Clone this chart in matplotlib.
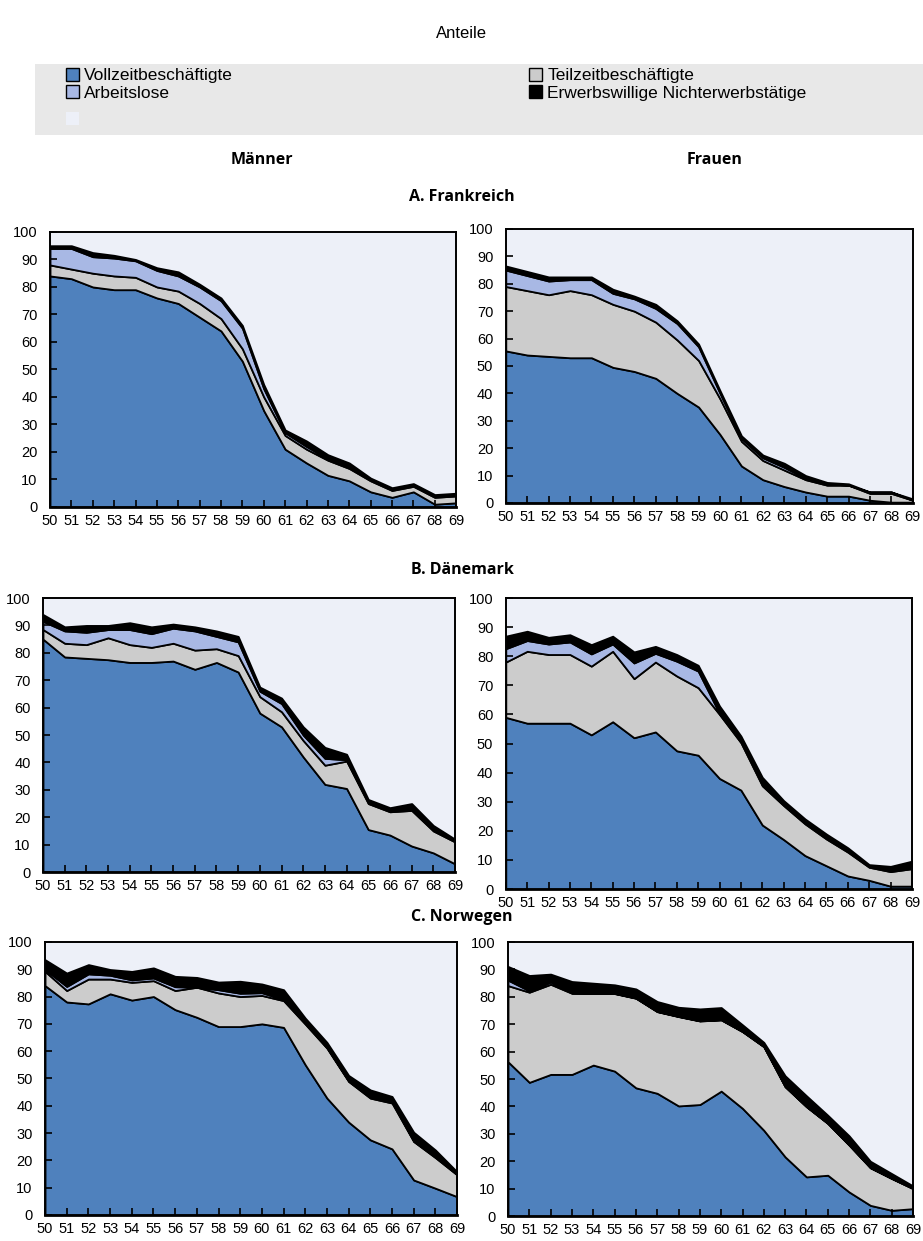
import matplotlib.pyplot as plt
from matplotlib.patches import Patch, Rectangle
import numpy as np

# ages on the x axis
ages = list(range(50, 70))

series_names = ['Vollzeitbeschäftigte', 'Teilzeitbeschäftigte', 'Arbeitslose',
                'Erwerbswillige Nichterwerbstätige']
colors = ['#4f81bd', '#cccccc', '#a8b8e4', '#000000']
bg_color = '#edf0f8'

# Frankreich
fr_m_full = [84, 83, 80, 79, 79, 76, 74, 69, 64, 53, 35, 21, 16, 11.5, 9.5, 5.5, 3.5, 5.5, 1, 1.5]
fr_m_part = [4, 3.5, 5, 5, 4.5, 4, 4.5, 5, 4.5, 4.5, 5, 5, 5, 5.5, 4.5, 4, 2.5, 2, 2.5, 2.5]
fr_m_unemp = [6, 7.5, 6, 6.5, 6, 6, 5.5, 6, 6.5, 7.5, 3, 1, 1, 0.5, 0.5, 0.5, 0.5, 0.5, 0.5, 0.5]
fr_m_will = [1, 1, 1.5, 1, 0.5, 1, 1.5, 1, 1, 1, 1.5, 1, 2, 1.5, 1.5, 0.5, 0.5, 0.5, 0.5, 0.5]

fr_w_full = [55.5, 54, 53.5, 53, 53, 49.5, 48, 45.5, 40, 35, 25, 13.5, 8.5, 6, 4, 2.5, 2.5, 1, 0.3, 0.3]
fr_w_part = [23.5, 23.5, 22.5, 24.5, 23, 23, 22, 20.5, 19.5, 17, 13, 9, 7, 6, 4.5, 4, 4, 2.5, 3.2, 0.7]
fr_w_unemp = [6, 5.5, 5, 4, 5.5, 4, 4.5, 5, 6, 5, 2, 1, 1, 1, 0.5, 0.5, 0, 0.5, 0.5, 0]
fr_w_will = [1.5, 1.5, 1.5, 1, 1, 1.5, 1, 1.5, 1, 1, 1, 1, 1, 1.5, 1, 0.5, 0.5, 0, 0, 0.5]

# Dänemark
dk_m_full = [85, 78.5, 78, 77.5, 76.5, 76.5, 77, 74, 76.5, 73, 58, 53, 42, 32, 30.5, 15.5, 13.5, 9.5, 7, 3]
dk_m_part = [3.5, 5, 5, 8, 6.5, 5.5, 6.5, 7, 5, 6, 6, 5.5, 6, 7, 10, 9.5, 8.5, 13, 8, 8]
dk_m_unemp = [3, 4.5, 4.5, 3, 5.5, 5, 5.5, 7, 4.5, 5, 2, 3, 2, 2.5, 0.5, 0.5, 0.5, 0.5, 0.5, 0.5]
dk_m_will = [2.5, 1.5, 2.5, 1.5, 2.5, 2.5, 1.5, 1.5, 2, 2, 1.5, 2, 3, 4, 2, 1, 1, 2, 1.5, 0.5]

dk_w_full = [59, 57, 57, 57, 53, 57.5, 52, 54, 47.5, 46, 38, 34, 22, 17, 11.5, 8, 4.5, 3, 1, 1]
dk_w_part = [19, 24.7, 23.6, 23.6, 23.6, 24.2, 20.3, 24, 25.7, 23.2, 22, 16.3, 13.5, 11.7, 10.9, 9.2, 8.2, 4.5, 5, 6]
dk_w_unemp = [4.6, 3.7, 3.6, 4.3, 4.2, 2.5, 5.4, 3, 5.1, 5.7, 0.3, 0.6, 0.5, 0.5, 0.5, 0.6, 0.5, 0.4, 0.4, 0.5]
dk_w_will = [4.3, 3.2, 2.3, 2.5, 3.2, 2.7, 3.8, 2.4, 2.3, 2, 2.6, 1.7, 2.4, 1.2, 1.2, 1.1, 1, 0.5, 1.4, 2.1]

# Norwegen
no_m_full = [84, 78, 77.3, 81, 78.7, 80, 75.2, 72.4, 69, 69, 70, 68.7, 55, 42.8, 34, 27.5, 24.2, 12.8, 9.8, 6.7]
no_m_part = [5.2, 4.2, 9.1, 5.4, 6.5, 5.8, 7, 11, 12.3, 11, 10.4, 9.8, 14.9, 18.3, 14.9, 15.3, 16.8, 14.1, 11.2, 8]
no_m_unemp = [0.7, 1.5, 1.9, 1.4, 0.9, 1, 1.4, 0, 1.2, 1.2, 1, 0.4, 0.4, 0.3, 0.2, 0.5, 0.6, 0.2, 0.4, 0.2]
no_m_will = [3.6, 4.9, 3.4, 2.1, 3.1, 3.7, 3.8, 3.6, 2.8, 4.4, 3.2, 3.6, 1.8, 1.8, 2, 2.5, 1.8, 3.2, 2.4, 0.9]

no_w_full = [56.3, 48.8, 51.7, 51.7, 55.1, 52.9, 46.8, 44.8, 40.2, 40.7, 45.6, 39.3, 31.3, 21.6, 14.3, 14.9, 8.8, 3.9, 2.1, 2.7]
no_w_part = [27.8, 32.9, 32.9, 29.6, 26.2, 28.3, 32.7, 29.8, 32.6, 30.5, 26, 28, 30.5, 25.6, 25.6, 18.9, 17.1, 13.7, 11.6, 7.3]
no_w_unemp = [2, 0.5, 0.8, 0.2, 0.1, 0.1, 0.1, 0.1, 0.1, 0.1, 0.1, 0.1, 0.1, 0.1, 0.1, 0.1, 0.1, 0.1, 0.1, 0.1]
no_w_will = [5, 5.6, 2.9, 4.1, 3.6, 3.1, 3.3, 3.6, 3.3, 4.3, 4.4, 2.4, 1.5, 3.9, 3.9, 2.9, 3.3, 2.3, 1.7, 0.9]

panels = [
    ([0.0542, 0.5915, 0.440, 0.2216], [fr_m_full, fr_m_part, fr_m_unemp, fr_m_will]),
    ([0.548, 0.5947, 0.441, 0.2208], [fr_w_full, fr_w_part, fr_w_unemp, fr_w_will]),
    ([0.0466, 0.2973, 0.4464, 0.2208], [dk_m_full, dk_m_part, dk_m_unemp, dk_m_will]),
    ([0.548, 0.2836, 0.440, 0.2345], [dk_w_full, dk_w_part, dk_w_unemp, dk_w_will]),
    ([0.0488, 0.021, 0.4464, 0.2200], [no_m_full, no_m_part, no_m_unemp, no_m_will]),
    ([0.5504, 0.0201, 0.4388, 0.2208], [no_w_full, no_w_part, no_w_unemp, no_w_will]),
]

tick_font = ['Liberation Sans Narrow', 'Liberation Sans', 'DejaVu Sans']

fig = plt.figure(figsize=(9.23, 12.41), dpi=100)

for rect, data in panels:
    ax = fig.add_axes(rect)
    ax.set_facecolor(bg_color)
    ax.stackplot(ages, *data, colors=colors, edgecolor='black', linewidth=1.3)
    ax.set_xlim(50, 69)
    ax.set_ylim(0, 100)
    ax.set_xticks(ages)
    ax.set_yticks(range(0, 101, 10))
    ax.tick_params(axis='both', direction='in', length=5, width=1.2, labelsize=10.5)
    ax.tick_params(axis='x', pad=5)
    ax.tick_params(axis='y', pad=9)
    for lab in ax.get_xticklabels() + ax.get_yticklabels():
        lab.set_family(tick_font)
    for s in ax.spines.values():
        s.set_linewidth(1.4)
    ax.spines['bottom'].set_linewidth(2)

# title and section headers
fig.text(0.5, 1 - 34 / 1241, 'Anteile', ha='center', va='center', fontsize=12,
         family=['Liberation Sans', 'DejaVu Sans'])
head = dict(ha='center', va='center', fontsize=11.5, fontweight='bold',
            family=['Open Sans', 'DejaVu Sans'])
fig.text(262 / 923, 1 - 160 / 1241, 'Männer', **head)
fig.text(715 / 923, 1 - 160 / 1241, 'Frauen', **head)
fig.text(462 / 923, 1 - 197 / 1241, 'A. Frankreich', **head)
fig.text(462 / 923, 1 - 570 / 1241, 'B. Dänemark', **head)
fig.text(462 / 923, 1 - 917 / 1241, 'C. Norwegen', **head)

# legend background band
fig.add_artist(Rectangle((35 / 923, 1 - 135 / 1241), 1 - 35 / 923, 71 / 1241,
                         transform=fig.transFigure, facecolor='#e8e8e8',
                         edgecolor='none', zorder=0))

def patch(c, ec='black'):
    return Patch(facecolor=c, edgecolor=ec, linewidth=1)

leg_font = {'family': ['Liberation Sans Narrow', 'Liberation Sans', 'DejaVu Sans'], 'size': 12.5}
leg_kw = dict(frameon=False, handlelength=0.75, handleheight=0.75, handletextpad=0.3,
              labelspacing=0.12, prop=leg_font, borderaxespad=0, borderpad=0)
fig.legend([patch(colors[0]), patch(colors[2])],
           [series_names[0], series_names[2]],
           loc='upper left', bbox_to_anchor=(66 / 923, 1 - 68 / 1241), **leg_kw)
fig.legend([patch(bg_color, 'none')], [''],
           loc='upper left', bbox_to_anchor=(66 / 923, 1 - 112 / 1241), **leg_kw)
fig.legend([patch(colors[1]), patch(colors[3])],
           [series_names[1], series_names[3]],
           loc='upper left', bbox_to_anchor=(529 / 923, 1 - 68 / 1241), **leg_kw)

plt.savefig('out.png', dpi=100)
